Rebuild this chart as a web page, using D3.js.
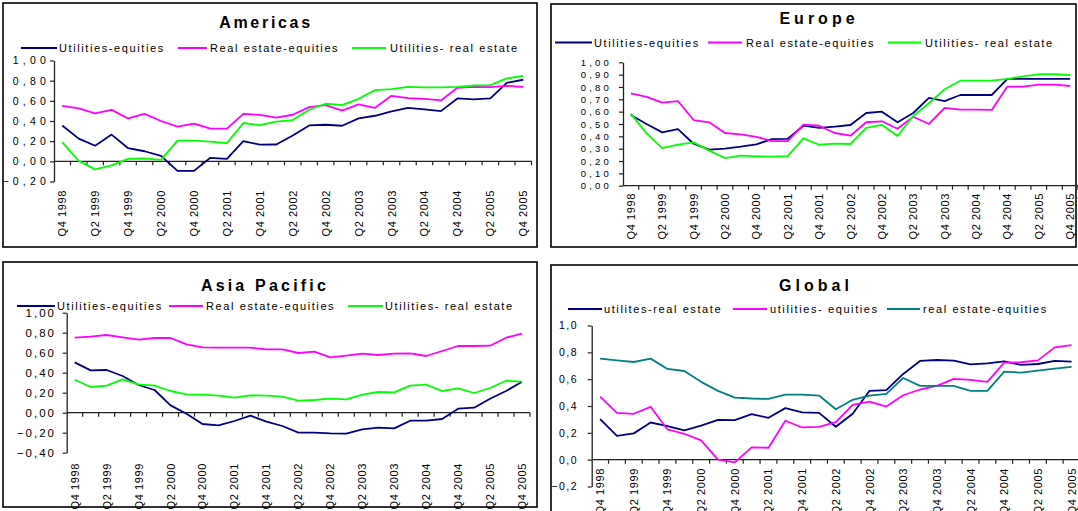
<!DOCTYPE html>
<html><head><meta charset="utf-8">
<script src="https://cdn.jsdelivr.net/npm/d3@7"></script>
<style>
body{margin:0;background:#fff}
svg{display:block}
text{font-family:"Liberation Sans",Arial,sans-serif;fill:#000}
</style>
</head><body>
<svg id="chart" width="1078" height="511"></svg>
<script>
// ---------- categories ----------
const quarters = ["Q4 1998","Q1 1999","Q2 1999","Q3 1999","Q4 1999","Q1 2000","Q2 2000","Q3 2000","Q4 2000",
  "Q1 2001","Q2 2001","Q3 2001","Q4 2001","Q1 2002","Q2 2002","Q3 2002","Q4 2002","Q1 2003","Q2 2003",
  "Q3 2003","Q4 2003","Q1 2004","Q2 2004","Q3 2004","Q4 2004","Q1 2005","Q2 2005","Q3 2005","Q4 2005"];
const shownQuarters = ["Q4 1998","Q2 1999","Q4 1999","Q2 2000","Q4 2000","Q2 2001","Q4 2001","Q2 2002",
  "Q4 2002","Q2 2003","Q4 2003","Q2 2004","Q4 2004","Q2 2005","Q4 2005"];

// ---------- Americas ----------
const americasUtilEq = [0.355,0.225,0.155,0.265,0.13,0.10,0.055,-0.095,-0.095,0.035,0.025,0.20,0.165,0.167,0.257,0.356,0.363,0.353,0.426,0.452,0.495,0.531,0.515,0.498,0.624,0.614,0.624,0.779,0.809];
const americasReEq   = [0.55,0.525,0.475,0.51,0.425,0.47,0.40,0.345,0.375,0.325,0.325,0.47,0.46,0.434,0.462,0.538,0.558,0.502,0.564,0.531,0.65,0.627,0.62,0.604,0.729,0.739,0.736,0.749,0.739];
const americasUtilRe = [0.19,0.005,-0.08,-0.04,0.025,0.03,0.015,0.205,0.205,0.195,0.18,0.38,0.36,0.394,0.409,0.512,0.571,0.558,0.62,0.706,0.716,0.739,0.733,0.733,0.739,0.752,0.756,0.822,0.848];
const americasTicks = [-0.2,0,0.2,0.4,0.6,0.8,1.0];

// ---------- Europe ----------
const europeUtilEq = [0.573,0.50,0.432,0.459,0.34,0.292,0.30,0.316,0.335,0.378,0.38,0.486,0.468,0.478,0.492,0.589,0.60,0.514,0.589,0.711,0.686,0.735,0.735,0.735,0.865,0.865,0.865,0.865,0.865];
const europeReEq   = [0.749,0.72,0.673,0.686,0.532,0.514,0.427,0.416,0.395,0.362,0.362,0.495,0.486,0.427,0.405,0.514,0.522,0.462,0.559,0.50,0.63,0.616,0.616,0.614,0.803,0.803,0.819,0.819,0.808];
const europeUtilRe = [0.584,0.424,0.305,0.332,0.351,0.284,0.224,0.243,0.238,0.235,0.24,0.384,0.332,0.341,0.338,0.468,0.492,0.403,0.565,0.668,0.781,0.851,0.851,0.851,0.865,0.886,0.903,0.903,0.897];
const europeTicks = [0,0.1,0.2,0.3,0.4,0.5,0.6,0.7,0.8,0.9,1.0];

// ---------- Asia Pacific ----------
const asiaUtilEq = [0.503,0.423,0.427,0.367,0.277,0.227,0.073,-0.01,-0.113,-0.127,-0.083,-0.03,-0.09,-0.133,-0.20,-0.20,-0.207,-0.21,-0.167,-0.15,-0.157,-0.08,-0.08,-0.063,0.04,0.05,0.14,0.217,0.31];
const asiaReEq   = [0.75,0.76,0.777,0.753,0.73,0.747,0.747,0.683,0.653,0.65,0.65,0.65,0.633,0.633,0.597,0.61,0.553,0.57,0.59,0.577,0.59,0.593,0.567,0.617,0.667,0.667,0.67,0.75,0.79];
const asiaUtilRe = [0.33,0.257,0.27,0.333,0.283,0.27,0.217,0.183,0.18,0.17,0.15,0.173,0.17,0.16,0.12,0.127,0.14,0.133,0.18,0.207,0.203,0.27,0.28,0.217,0.243,0.197,0.247,0.32,0.31];
const asiaTicks = [-0.4,-0.2,0,0.2,0.4,0.6,0.8,1.0];

// ---------- Global ----------
const globalUtilRe = [0.302,0.178,0.196,0.277,0.25,0.218,0.253,0.297,0.295,0.339,0.312,0.384,0.352,0.349,0.245,0.342,0.513,0.518,0.639,0.736,0.743,0.738,0.711,0.718,0.733,0.706,0.713,0.736,0.731];
const globalUtilEq = [0.47,0.349,0.342,0.394,0.225,0.193,0.144,0.0,-0.02,0.092,0.089,0.29,0.24,0.245,0.28,0.409,0.433,0.396,0.48,0.523,0.55,0.602,0.594,0.58,0.723,0.726,0.74,0.837,0.854];
const globalReEq   = [0.753,0.74,0.728,0.753,0.676,0.661,0.58,0.513,0.463,0.456,0.453,0.485,0.485,0.478,0.376,0.446,0.478,0.49,0.609,0.55,0.55,0.55,0.513,0.513,0.656,0.649,0.664,0.679,0.691];
const globalTicks = [-0.2,0,0.2,0.4,0.6,0.8,1.0];

// ---------- legend names ----------
const regionalNames = ["Utilities-equities","Real estate-equities","Utilities- real estate"];
const globalNames = ["utilites-real estate","utilities- equities","real estate-equities"];

const NAVY = "#000080", MAGENTA = "#FF00FF", GREEN = "#00FF00", TEAL = "#008080";

const panels = [
  { title:"Americas", box:[3,3,534,244], titleXY:[266,28], titleLs:2.7,
    names:regionalNames, series:[americasUtilEq,americasReEq,americasUtilRe], colors:[NAVY,MAGENTA,GREEN],
    legendY:52, legend:[[21,57,59],[178,207,210],[352,386,390]], legendLs:1.6,
    xRange:[54,531.5], yDomain:[-0.2,1.0], yRange:[181.5,60.5], ticks:americasTicks, dec:2,
    yLabelRight:50, yLs:4.2, yFont:10.5, xLabelTop:190, xLabelAtZero:false },
  { title:"Europe", box:[551,4,525,243], titleXY:[819,24], titleLs:4,
    names:regionalNames, series:[europeUtilEq,europeReEq,europeUtilRe], colors:[NAVY,MAGENTA,GREEN],
    legendY:46.5, legend:[[555,592,594],[708,742,746],[888,921,925]], legendLs:1.6,
    xRange:[623,1078], yDomain:[0,1.0], yRange:[185.7,62.3], ticks:europeTicks, dec:2,
    yLabelRight:612, yLs:3.2, yFont:9.5, xLabelTop:193, xLabelAtZero:false },
  { title:"Asia Pacific", box:[3,262,534,245], titleXY:[265,291], titleLs:3.2,
    names:regionalNames, series:[asiaUtilEq,asiaReEq,asiaUtilRe], colors:[NAVY,MAGENTA,GREEN],
    legendY:310, legend:[[17,55,57],[169,203,206],[348,383,385]], legendLs:1.6,
    xRange:[66.7,530], yDomain:[-0.4,1.0], yRange:[452.7,312.7], ticks:asiaTicks, dec:2,
    yLabelRight:56, yLs:2, yFont:11.5, xLabelTop:463, xLabelAtZero:false },
  { title:"Global", box:[551,265,530,250], titleXY:[816,291], titleLs:4,
    names:globalNames, series:[globalUtilRe,globalUtilEq,globalReEq], colors:[NAVY,MAGENTA,TEAL],
    legendY:313, legend:[[568,602,604],[733,767,770],[887,920,923]], legendLs:1.6,
    xRange:[591.7,1080], yDomain:[-0.2,1.0], yRange:[486.5,325.5], ticks:globalTicks, dec:1,
    yLabelRight:578, yLs:1.5, yFont:10.5, xLabelTop:468, xLabelAtZero:true }
];

const svg = d3.select("#chart");

panels.forEach(p => {
  const g = svg.append("g");
  // border
  g.append("rect").attr("x",p.box[0]).attr("y",p.box[1]).attr("width",p.box[2]).attr("height",p.box[3])
    .attr("fill","#fff").attr("stroke","#000").attr("stroke-width",1.6);

  // title
  g.append("text").attr("x",p.titleXY[0]).attr("y",p.titleXY[1]).attr("text-anchor","middle")
    .style("font-size","16px").style("font-weight","bold").style("letter-spacing",p.titleLs+"px")
    .text(p.title);

  // legend
  p.names.forEach((n,i) => {
    const L = p.legend[i];
    g.append("line").attr("x1",L[0]).attr("x2",L[1]).attr("y1",p.legendY-4).attr("y2",p.legendY-4)
      .attr("stroke",p.colors[i]).attr("stroke-width",2);
    g.append("text").attr("x",L[2]).attr("y",p.legendY).style("font-size","11px")
      .style("letter-spacing",p.legendLs+"px").text(n);
  });

  const x = d3.scaleBand().domain(quarters).range(p.xRange).paddingInner(0).paddingOuter(0);
  const y = d3.scaleLinear().domain(p.yDomain).range(p.yRange);
  const cx = q => x(q) + x.bandwidth()/2;

  // y axis
  const fmt = v => d3.format("."+p.dec+"f")(v).replace("-","-").replace(".",",");
  const ya = g.append("g").attr("transform",`translate(${p.xRange[0]},0)`)
    .call(d3.axisLeft(y).tickValues(p.ticks).tickSize(4).tickSizeOuter(0)
      .tickPadding(p.xRange[0]-4-p.yLabelRight).tickFormat(fmt));
  ya.select(".domain").attr("stroke","#222").attr("stroke-width",1.3);
  ya.selectAll(".tick line").attr("stroke","#222").attr("stroke-width",1.2);
  ya.selectAll(".tick text").style("font-size",p.yFont+"px").style("letter-spacing",p.yLs+"px")
    .style("font-family",'"Liberation Sans",Arial,sans-serif').attr("fill","#000");

  // x axis line at zero with ticks at every category boundary
  const y0 = y(0);
  g.append("line").attr("x1",p.xRange[0]).attr("x2",p.xRange[1]).attr("y1",y0).attr("y2",y0)
    .attr("stroke","#222").attr("stroke-width",1.3);
  const edges = quarters.map(q => x(q)).concat([p.xRange[1]]).slice(1);
  g.selectAll(null).data(edges).join("line")
    .attr("x1",d=>d).attr("x2",d=>d).attr("y1",y0).attr("y2",y0+4)
    .attr("stroke","#222").attr("stroke-width",1.2);

  // x labels
  g.selectAll(null).data(shownQuarters).join("text")
    .attr("transform",d=>`translate(${cx(d)+4},${p.xLabelTop}) rotate(-90)`)
    .attr("text-anchor","end").style("font-size","11px").style("letter-spacing","0.6px")
    .text(d=>d);

  // series
  const line = d3.line().x((d,i)=>cx(quarters[i])).y(d=>y(d));
  p.series.forEach((s,i) => {
    g.append("path").datum(s).attr("d",line).attr("fill","none")
      .attr("stroke",p.colors[i]).attr("stroke-width",1.8).attr("stroke-linejoin","round");
  });
});
</script>
</body></html>
